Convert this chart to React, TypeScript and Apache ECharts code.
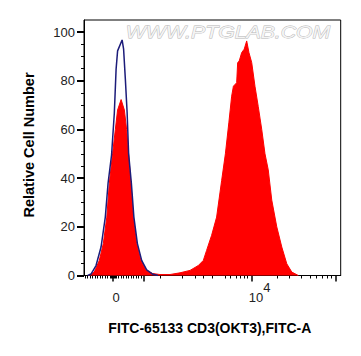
import React, { useEffect, useRef } from "react";
import * as echarts from "echarts";

// Fluorescence axis expressed in display channels (0..1024)
const redChannels = [21, 41, 61, 77, 91, 101, 114, 125, 134, 148, 161, 170, 178, 187, 197, 210, 227, 247, 274, 303, 343, 383, 423, 456, 476, 489, 509, 529, 549, 564, 578, 589, 596, 609, 613, 619, 629, 639, 649, 658, 669, 682, 695, 709, 722, 735, 749, 769, 789, 809, 829, 855];
const redCounts = [0, 1.4, 6.2, 13.1, 24, 37.9, 50, 60, 68, 72.3, 68, 60, 50, 37.9, 24, 13.1, 6.2, 2.3, 0.8, 0.4, 0.4, 1.1, 2.1, 4.1, 6.2, 10.3, 16.5, 24, 39, 50, 63, 73.7, 77.8, 79.2, 87.5, 88.1, 91.6, 93, 96.4, 91.6, 87.5, 77.8, 69.5, 60, 50, 43.4, 31, 20, 11.7, 4.8, 1.4, 0];

const blueChannels = [15, 28, 48, 68, 85, 96, 110, 121, 128, 134, 152, 158, 165, 172, 178, 189, 199, 213, 230, 250, 275, 295];
const blueCounts = [0, 0.6, 4.1, 11.7, 24, 37.9, 49.6, 66.8, 84.7, 92.3, 96.8, 93, 80.6, 67, 50, 37.9, 24, 13.1, 6.2, 2.3, 0.5, 0];

const xMajorTicks = [114, 239, 669, 1005];
const xMinorTicks = [4, 14, 24, 34, 44, 54, 64, 74, 84, 94, 104, 108, 112, 116, 120, 124, 128, 138, 148, 158, 168, 178, 187, 197, 207, 217, 227, 303, 390, 443, 476, 511, 562, 585, 606, 625, 639, 651, 770, 819, 866, 902, 928, 952, 971, 988];
const xLabelValues = [114, 657];
const xLabelTexts = ["{z|0}", "{b|10}{s|4}"];

const yTicks = [0, 20, 40, 60, 80, 100];
const yMinorTicks = [5, 10, 15, 25, 30, 35, 45, 50, 55, 65, 70, 75, 85, 90, 95];

const FONT = '"Liberation Sans", Arial, sans-serif';

export default function App() {
  const ref = useRef<HTMLDivElement>(null);
  useEffect(() => {
    const chart = echarts.init(ref.current!, null, { renderer: "svg" });
    const red = redChannels.map((c, i) => [c, redCounts[i]]);
    const blue = blueChannels.map((c, i) => [c, blueCounts[i]]);
    chart.setOption({
      animation: false,
      textStyle: { fontFamily: FONT },
      grid: {
        left: 84, right: 20.3, top: 20, bottom: 80.5,
        show: true, borderColor: "#000", borderWidth: 1,
        containLabel: false, outerBoundsMode: "none",
      },
      xAxis: [
        {
          type: "value", min: 0, max: 1024, position: "bottom",
          axisLine: { show: true, lineStyle: { color: "#000", width: 1 } },
          axisTick: { show: true, customValues: xMajorTicks, length: 6, lineStyle: { color: "#000", width: 1.5 } },
          axisLabel: {
            show: true, customValues: xLabelValues, align: "left", margin: 15,
            formatter: (v: number) => {
              const i = xLabelValues.indexOf(v);
              return i >= 0 ? xLabelTexts[i] : "";
            },
            rich: {
              z: { fontSize: 13, lineHeight: 13, color: "#222", fontFamily: FONT, padding: [10, 0, 10, 0] },
              b: { fontSize: 13, lineHeight: 13, color: "#222", fontFamily: FONT },
              s: { fontSize: 13, lineHeight: 13, color: "#222", fontFamily: FONT, padding: [0, 0, 20, 0] },
            },
          },
          splitLine: { show: false },
          name: "FITC-65133 CD3(OKT3),FITC-A",
          nameLocation: "middle", nameGap: 45,
          nameTextStyle: { fontSize: 14, fontWeight: "bold", color: "#000", fontFamily: FONT, padding: [0, 5, 0, 0] },
        },
        {
          type: "value", min: 0, max: 1024, position: "bottom",
          axisLine: { show: false },
          axisTick: { show: true, customValues: xMinorTicks, length: 3, lineStyle: { color: "#000", width: 1 } },
          axisLabel: { show: false },
          splitLine: { show: false },
        },
      ],
      yAxis: [
        {
          type: "value", min: 0, max: 105, position: "left",
          axisLine: { show: true, lineStyle: { color: "#000", width: 1 } },
          axisTick: { show: true, customValues: yTicks, length: 7, lineStyle: { color: "#000", width: 2 } },
          axisLabel: { show: true, customValues: yTicks, margin: 9, fontSize: 13, color: "#222", fontFamily: FONT },
          splitLine: { show: false },
          name: "Relative Cell Number",
          nameLocation: "middle", nameGap: 48, nameRotate: 90,
          nameTextStyle: { fontSize: 14.5, fontWeight: "bold", color: "#000", fontFamily: FONT, padding: [0, 0, 0, 5.5] },
        },
        {
          type: "value", min: 0, max: 105, position: "left",
          axisLine: { show: false },
          axisTick: { show: true, customValues: yMinorTicks, length: 3, lineStyle: { color: "#000", width: 1 } },
          axisLabel: { show: false },
          splitLine: { show: false },
        },
      ],
      series: [
        {
          type: "line", xAxisIndex: 0, yAxisIndex: 0, data: red,
          symbol: "none", showSymbol: false,
          lineStyle: { color: "#ff0000", width: 1 },
          areaStyle: { color: "#ff0000", opacity: 1 },
          z: 2,
        },
        {
          type: "line", xAxisIndex: 0, yAxisIndex: 0, data: blue,
          symbol: "none", showSymbol: false,
          lineStyle: { color: "#1c1c7a", width: 1.5 },
          z: 3,
        },
      ],
      graphic: [
        {
          type: "text", x: 228, y: 32.5, scaleX: 1.25, z: 100,
          style: {
            text: "WWW.PTGLAB.COM",
            fontSize: 17, fontStyle: "italic", fontFamily: FONT,
            fill: "#f4f4f4", stroke: "#b5b5b5", lineWidth: 0.8,
            align: "center", verticalAlign: "middle",
            textAlign: "center", textVerticalAlign: "middle",
          },
        },
      ],
    });
    return () => chart.dispose();
  }, []);
  return <div ref={ref} style={{ position: "absolute", left: 0, top: 0, width: 361, height: 356 }} />;
}
